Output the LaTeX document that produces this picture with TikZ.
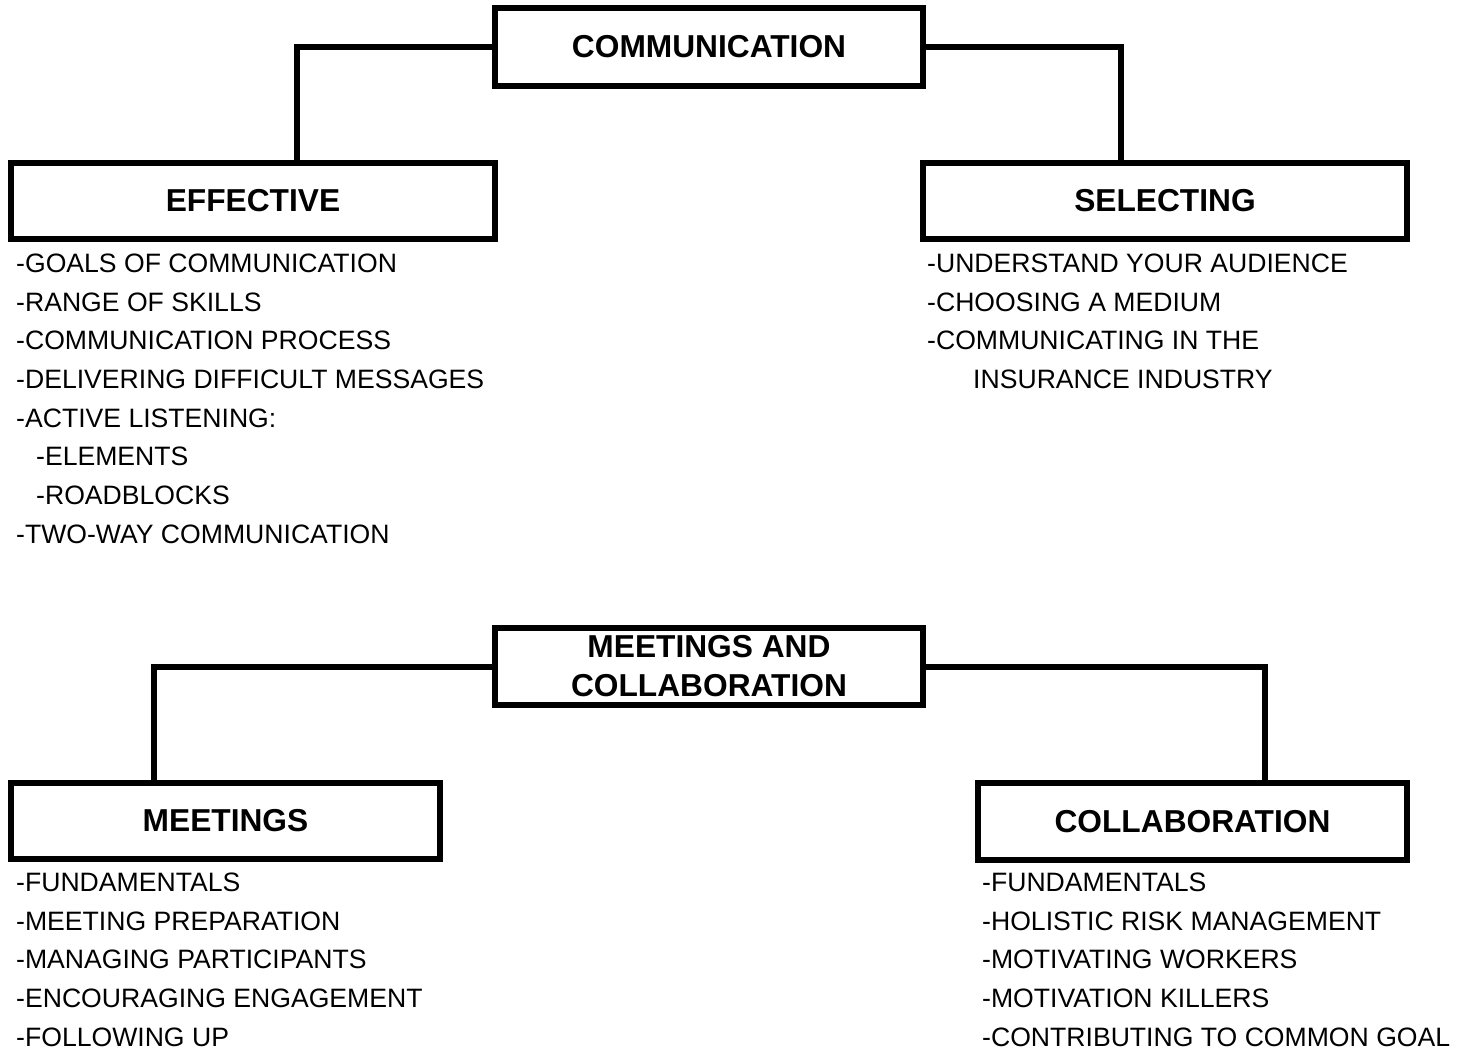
\documentclass[tikz,border=0pt]{standalone}
\usepackage{fontspec}
\setmainfont{Liberation Sans}
\newcommand{\headfont}{\bfseries\fontsize{31.7}{39}\selectfont}
\newcommand{\itemfont}{\fontsize{26.6}{30}\selectfont}
\begin{document}
\begin{tikzpicture}[x=1pt,y=-1pt,
  box/.style={draw, line width=6pt, outer sep=0pt, inner sep=0pt,
              align=center, font=\headfont},
  link/.style={line width=6pt, line join=miter},
  item/.style={anchor=base west, inner sep=0pt, font=\itemfont}]
\useasboundingbox (0,0) rectangle (1464,1053);

% --- Communication branch ---
\node[box, minimum width=428pt, minimum height=78pt] (comm) at (709,47) {COMMUNICATION};
\node[box, minimum width=484pt, minimum height=76pt] (eff) at (253,201) {EFFECTIVE};
\node[box, minimum width=484pt, minimum height=76pt] (sel) at (1165,201) {SELECTING};

\draw[link] (comm.west) -| ([xshift=44pt]eff.north);
\draw[link] (comm.east) -| ([xshift=-44pt]sel.north);

\node[item] (e1) at (16,272.4) {-GOALS OF COMMUNICATION};
\node[item] (e2) at (16,311.1) {-RANGE OF SKILLS};
\node[item] (e3) at (16,349.8) {-COMMUNICATION PROCESS};
\node[item] (e4) at (16,388.5) {-DELIVERING DIFFICULT MESSAGES};
\node[item] (e5) at (16,427.2) {-ACTIVE LISTENING:};
\node[item] (e6) at (36,465.9) {-ELEMENTS};
\node[item] (e7) at (36,504.6) {-ROADBLOCKS};
\node[item] (e8) at (16,543.3) {-TWO-WAY COMMUNICATION};

\node[item] (s1) at (927,272.4) {-UNDERSTAND YOUR AUDIENCE};
\node[item] (s2) at (927,311.1) {-CHOOSING A MEDIUM};
\node[item] (s3) at (927,349.8) {-COMMUNICATING IN THE};
\node[item] (s4) at (973,388.5) {INSURANCE INDUSTRY};

% --- Meetings and collaboration branch ---
\node[box, minimum width=428pt, minimum height=77pt] (mac) at (709,666.5) {MEETINGS AND\\COLLABORATION};
\node[box, minimum width=429pt, minimum height=76pt] (meet) at (225.5,821) {MEETINGS};
\node[box, minimum width=429pt, minimum height=77pt] (coll) at (1192.5,821.5) {COLLABORATION};

\draw[link] (mac.west) -| ([xshift=-71.5pt]meet.north);
\draw[link] (mac.east) -| ([xshift=72pt]coll.north);

\node[item] (m1) at (16,891.4) {-FUNDAMENTALS};
\node[item] (m2) at (16,930.1) {-MEETING PREPARATION};
\node[item] (m3) at (16,968.8) {-MANAGING PARTICIPANTS};
\node[item] (m4) at (16,1007.5) {-ENCOURAGING ENGAGEMENT};
\node[item] (m5) at (16,1046.2) {-FOLLOWING UP};

\node[item] (c1) at (982,891.4) {-FUNDAMENTALS};
\node[item] (c2) at (982,930.1) {-HOLISTIC RISK MANAGEMENT};
\node[item] (c3) at (982,968.8) {-MOTIVATING WORKERS};
\node[item] (c4) at (982,1007.5) {-MOTIVATION KILLERS};
\node[item] (c5) at (982,1046.2) {-CONTRIBUTING TO COMMON GOAL};
\end{tikzpicture}
\end{document}
